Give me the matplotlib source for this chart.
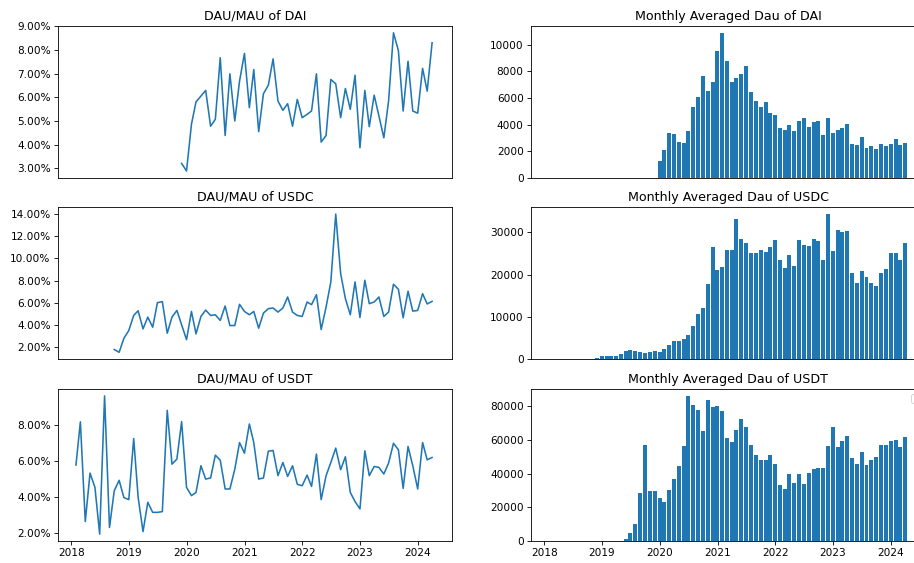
import pandas as pd
import matplotlib
matplotlib.use('Agg')
import matplotlib.pyplot as plt
from matplotlib.ticker import PercentFormatter

# DAU/MAU ratio (percent), one value per month-end
DAI_RATIO_START = '2019-11'
DAI_RATIO = [3.21, 2.89, 4.86, 5.81, 6.05, 6.29, 4.78, 5.07, 7.67, 4.39,
             6.99, 5.00, 6.68, 7.85, 5.56, 7.17, 4.55, 6.15, 6.51, 7.62,
             5.84, 5.45, 5.73, 4.78, 5.91, 5.14, 5.28, 5.42, 6.99, 4.11,
             4.39, 6.75, 6.57, 5.14, 6.37, 5.49, 6.93, 3.87, 6.29, 4.76,
             6.09, 5.21, 4.29, 5.84, 8.72, 7.97, 5.42, 7.52, 5.42, 5.33,
             7.22, 6.26, 8.30]

USDC_RATIO_START = '2018-09'
USDC_RATIO = [1.80, 1.55, 2.81, 3.51, 4.87, 5.29, 3.66, 4.72, 3.81, 6.02,
              6.11, 3.27, 4.72, 5.32, 4.02, 2.69, 5.23, 3.21, 4.78, 5.35,
              4.87, 4.93, 4.42, 5.72, 3.96, 3.96, 5.87, 5.23, 4.93, 5.23,
              3.72, 5.08, 5.48, 5.54, 5.17, 5.54, 6.53, 5.17, 4.87, 4.78,
              6.08, 5.84, 6.74, 3.60, 5.63, 7.89, 14.00, 8.65, 6.38, 4.93,
              7.89, 4.69, 8.04, 5.93, 6.08, 6.53, 4.78, 5.17, 7.68, 7.23,
              4.66, 7.05, 5.26, 5.32, 6.83, 5.90, 6.14]

USDT_RATIO_START = '2018-01'
USDT_RATIO = [5.77, 8.17, 2.63, 5.32, 4.53, 1.93, 9.61, 2.30, 4.34, 4.92,
              3.96, 3.85, 7.24, 3.98, 2.07, 3.70, 3.14, 3.14, 3.18, 8.81,
              5.82, 6.10, 8.18, 4.53, 4.07, 4.25, 5.73, 4.99, 5.05, 6.32,
              6.04, 4.44, 4.44, 5.54, 7.02, 6.43, 8.05, 7.02, 4.99, 5.05,
              6.54, 6.58, 5.18, 5.91, 5.14, 5.73, 4.70, 4.62, 5.21, 4.58,
              6.38, 3.85, 5.18, 5.91, 6.71, 5.51, 6.23, 4.25, 3.74, 3.33,
              6.56, 5.18, 5.69, 5.64, 5.27, 5.88, 6.98, 6.62, 4.47, 6.80,
              5.73, 4.44, 7.02, 6.06, 6.19]

# monthly averaged DAU
DAI_DAU_START = '2019-12'
DAI_DAU = [1250, 2125, 3375, 3325, 2675, 2625, 3525, 5350, 6050, 7650,
           6500, 7175, 9500, 10875, 8775, 7225, 7475, 7800, 8375, 6450,
           5750, 5300, 5675, 4900, 4725, 3775, 3600, 4000, 3500, 4250,
           4500, 3850, 4200, 4300, 3225, 4500, 3375, 3600, 3775, 4050,
           2550, 2500, 3050, 2225, 2375, 2175, 2550, 2375, 2550, 2900,
           2500, 2625]

USDC_DAU_START = '2018-11'
USDC_DAU = [316, 710, 710, 870, 870, 1180, 2050, 2210, 1820, 1660,
            1420, 1660, 1820, 1660, 2290, 3320, 4180, 4180, 4740, 5680,
            7900, 10660, 12000, 17840, 26530, 21160, 21790, 25740, 25740, 33160,
            28500, 27400, 25030, 25030, 25900, 25340, 26530, 28180, 23370, 21550,
            24630, 21950, 28260, 27080, 26690, 28340, 28030, 23370, 34190, 25500,
            30470, 30080, 30240, 20290, 17920, 20760, 19500, 18000, 17210, 20450,
            21320, 25110, 25030, 23530, 27550]

USDT_DAU_START = '2019-04'
USDT_DAU = [300, 1200, 4900, 10000, 28600, 56700, 29800, 29400, 25700, 23100,
            30400, 36900, 44400, 56300, 85900, 80800, 78000, 65200, 83700, 79800,
            80300, 77400, 61000, 59000, 65600, 72500, 67900, 56700, 51200, 48000,
            48000, 51200, 46000, 33400, 30800, 39500, 34200, 39500, 33800, 40500,
            42700, 43500, 43500, 56300, 67900, 55700, 59300, 62200, 49200, 45600,
            52700, 45200, 47800, 49800, 56700, 56700, 59600, 60000, 55700, 62000]

TOKENS = ['DAI', 'USDC', 'USDT']
RATIO = {'DAI': (DAI_RATIO_START, DAI_RATIO),
         'USDC': (USDC_RATIO_START, USDC_RATIO),
         'USDT': (USDT_RATIO_START, USDT_RATIO)}
DAU = {'DAI': (DAI_DAU_START, DAI_DAU),
       'USDC': (USDC_DAU_START, USDC_DAU),
       'USDT': (USDT_DAU_START, USDT_DAU)}


def month_ends(start, n):
    return pd.date_range(start, periods=n, freq='ME')


fig = plt.figure(figsize=(914 / 76, 563 / 76), dpi=76)

# panel boxes in figure fractions (right column runs slightly off the canvas)
row_bottom = [0.684, 0.362, 0.039]
row_height = 0.270
left_x, right_x, col_w = 0.0635, 0.581, 0.431

base = None
for i, tok in enumerate(TOKENS):
    ax_l = fig.add_axes([left_x, row_bottom[i], col_w, row_height], sharex=base)
    if base is None:
        base = ax_l
    ax_r = fig.add_axes([right_x, row_bottom[i], col_w, row_height], sharex=base)

    start, vals = RATIO[tok]
    ax_l.plot(month_ends(start, len(vals)), vals, color='#1f77b4')
    ax_l.yaxis.set_major_formatter(PercentFormatter(xmax=100, decimals=2))
    ax_l.set_title(f'DAU/MAU of {tok}')

    start, vals = DAU[tok]
    ax_r.bar(month_ends(start, len(vals)), vals, width=25, color='#1f77b4')
    ax_r.set_title(f'Monthly Averaged Dau of {tok}')

    if i < 2:
        for ax in (ax_l, ax_r):
            ax.tick_params(axis='x', bottom=False, labelbottom=False)
    else:
        ax_r.legend(handles=[], loc='upper right')

fig.savefig('out.png', dpi=76)
